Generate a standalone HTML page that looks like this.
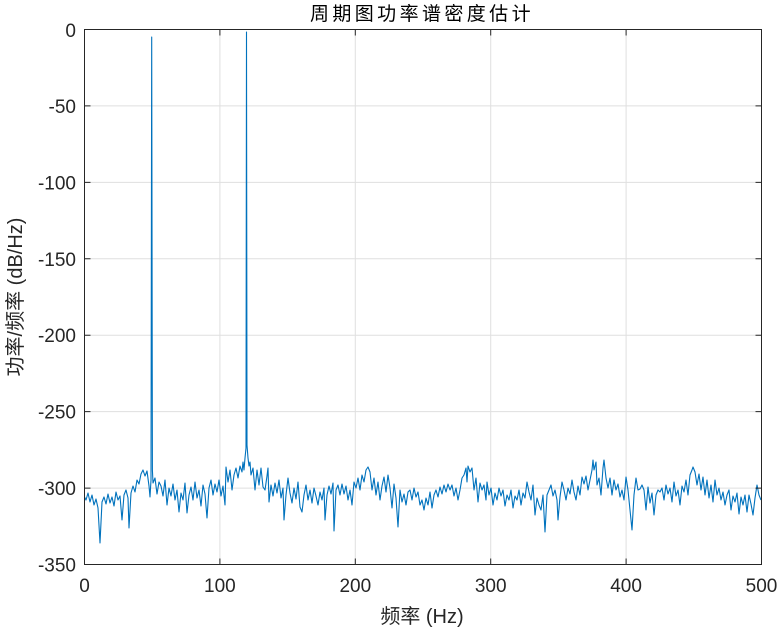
<!DOCTYPE html>
<html><head><meta charset="utf-8"><style>
html,body{margin:0;padding:0;background:#fff;}
svg{display:block;}
text{font-family:"Liberation Sans","Noto Sans CJK SC",sans-serif;}
</style></head><body>
<svg width="781" height="632" viewBox="0 0 781 632" xmlns="http://www.w3.org/2000/svg">
<rect x="0" y="0" width="781" height="632" fill="#fff"/>
<defs><clipPath id="c"><rect x="84.5" y="29.5" width="677" height="535"/></clipPath></defs>
<g stroke="#dfdfdf" stroke-width="1" fill="none">
<line x1="219.9" y1="29.5" x2="219.9" y2="564.5"/>
<line x1="355.3" y1="29.5" x2="355.3" y2="564.5"/>
<line x1="490.7" y1="29.5" x2="490.7" y2="564.5"/>
<line x1="626.1" y1="29.5" x2="626.1" y2="564.5"/>
<line x1="84.5" y1="105.9" x2="761.5" y2="105.9"/>
<line x1="84.5" y1="182.4" x2="761.5" y2="182.4"/>
<line x1="84.5" y1="258.8" x2="761.5" y2="258.8"/>
<line x1="84.5" y1="335.2" x2="761.5" y2="335.2"/>
<line x1="84.5" y1="411.6" x2="761.5" y2="411.6"/>
<line x1="84.5" y1="488.1" x2="761.5" y2="488.1"/>
</g>
<polyline clip-path="url(#c)" fill="none" stroke="#0072bd" stroke-width="1.1" stroke-linejoin="round" points="84,496 86,500 88,493 90,502 92,495 94,505 96,499 98,508 100,543 102,502 104,497 106,504 108,494 110,503 112,497 114,506 116,492 118,500 120,496 122,520 124,495 126,490 128,498 129,528 131,493 133,486 135,492 137,480 139,484 141,474 143,470 145,476 147,471 149,486 150,497 151,480 151.7,37 152.4,470 153,483 155,478 157,494 159,482 161,486 163,496 165,480 167,505 169,488 171,496 173,484 175,500 177,490 179,512 181,493 183,500 185,483 187,513 189,495 191,487 193,500 195,482 197,498 199,490 201,506 203,485 205,494 207,518 209,488 211,480 213,495 215,484 217,492 219,480 221,496 223,486 225,505 226,467 228,482 230,470 232,490 234,475 236,468 238,478 240,466 242,472 243,462 244,470 245,458 246,448 246.5,32 247,445 248,458 249,466 250,462 251,475 253,468 255,490 257,470 259,485 261,468 263,487 265,490 267,476 268,468 269,502 271,485 273,496 275,483 277,493 279,480 281,498 283,488 284,520 286,495 288,478 290,493 292,503 294,488 296,499 298,482 300,507 302,512 304,495 306,485 308,500 310,490 312,503 314,488 316,496 318,505 320,492 322,500 324,488 325,520 327,495 329,486 331,494 333,483 334,531 336,490 338,485 340,495 342,484 344,494 346,486 348,500 350,490 352,505 354,482 356,488 358,478 360,490 362,475 364,482 366,470 368,467 370,472 372,490 374,478 376,495 378,482 380,500 382,486 384,477 386,492 388,475 390,488 392,508 394,484 396,498 398,527 400,490 402,502 404,494 406,505 408,492 410,490 412,500 414,488 416,497 418,492 420,505 422,500 424,510 426,498 428,505 430,492 432,508 434,495 436,490 438,497 440,487 442,494 444,485 446,492 448,484 450,490 452,485 454,496 456,488 458,500 460,490 462,478 464,475 466,468 467,482 468,466 470,472 472,468 474,490 476,478 478,502 480,483 482,490 484,485 486,500 487,482 489,495 491,488 493,505 495,493 497,500 499,488 501,496 503,490 505,506 507,495 509,500 511,490 513,508 515,496 517,500 519,490 521,505 523,493 525,498 527,482 529,492 531,500 533,485 535,515 537,498 539,505 541,510 543,495 545,532 547,495 549,490 551,485 553,496 555,490 557,500 558,520 560,497 562,482 564,490 566,500 568,488 570,494 572,480 574,492 576,500 578,486 580,495 582,477 584,484 586,476 588,490 590,480 592,470 593,460 594,470 596,462 597,485 599,478 601,495 603,468 604,460 606,478 608,488 610,478 612,495 614,480 616,490 618,484 620,497 622,490 624,500 626,477 628,490 630,510 632,530 634,495 636,478 638,490 640,489 642,485 644,490 646,510 648,487 650,503 652,493 654,515 656,495 658,490 660,492 662,488 664,500 666,485 668,494 670,488 672,502 674,482 676,496 678,490 680,505 682,486 684,492 686,480 688,495 690,475 692,470 693,467 695,472 697,485 699,474 701,490 703,477 705,495 707,480 709,498 711,485 713,502 715,480 717,495 719,488 721,500 723,492 725,505 727,495 729,490 731,510 733,496 735,502 737,493 739,514 741,497 743,505 745,495 747,512 749,495 751,504 753,515 755,498 757,485 759,495 761,500"/>
<g stroke="#262626" stroke-width="1" fill="none">
<rect x="84.5" y="29.5" width="677" height="535"/>
<path d="M219.9,564.5v-6M355.3,564.5v-6M490.7,564.5v-6M626.1,564.5v-6M219.9,29.5v6M355.3,29.5v6M490.7,29.5v6M626.1,29.5v6"/>
<path d="M84.5,105.9h6M84.5,182.4h6M84.5,258.8h6M84.5,335.2h6M84.5,411.6h6M84.5,488.1h6M761.5,105.9h-6M761.5,182.4h-6M761.5,258.8h-6M761.5,335.2h-6M761.5,411.6h-6M761.5,488.1h-6"/>
</g>
<g fill="#262626" font-size="19" text-anchor="end">
<text x="76" y="37">0</text>
<text x="76" y="113">-50</text>
<text x="76" y="189.5">-100</text>
<text x="76" y="266">-150</text>
<text x="76" y="342">-200</text>
<text x="76" y="418.5">-250</text>
<text x="76" y="495">-300</text>
<text x="76" y="571.5">-350</text>
</g>
<g fill="#262626" font-size="19" text-anchor="middle">
<text x="84.5" y="592">0</text>
<text x="219.9" y="592">100</text>
<text x="355.3" y="592">200</text>
<text x="490.7" y="592">300</text>
<text x="626.1" y="592">400</text>
<text x="761.5" y="592">500</text>
</g>
<text x="422" y="623" fill="#262626" font-size="20" text-anchor="middle">频率 (Hz)</text>
<text transform="translate(22,297) rotate(-90)" fill="#262626" font-size="20" text-anchor="middle">功率/频率 (dB/Hz)</text>
<text x="422" y="20" fill="#000" font-size="19" letter-spacing="3.4" text-anchor="middle">周期图功率谱密度估计</text>
</svg>
</body></html>
